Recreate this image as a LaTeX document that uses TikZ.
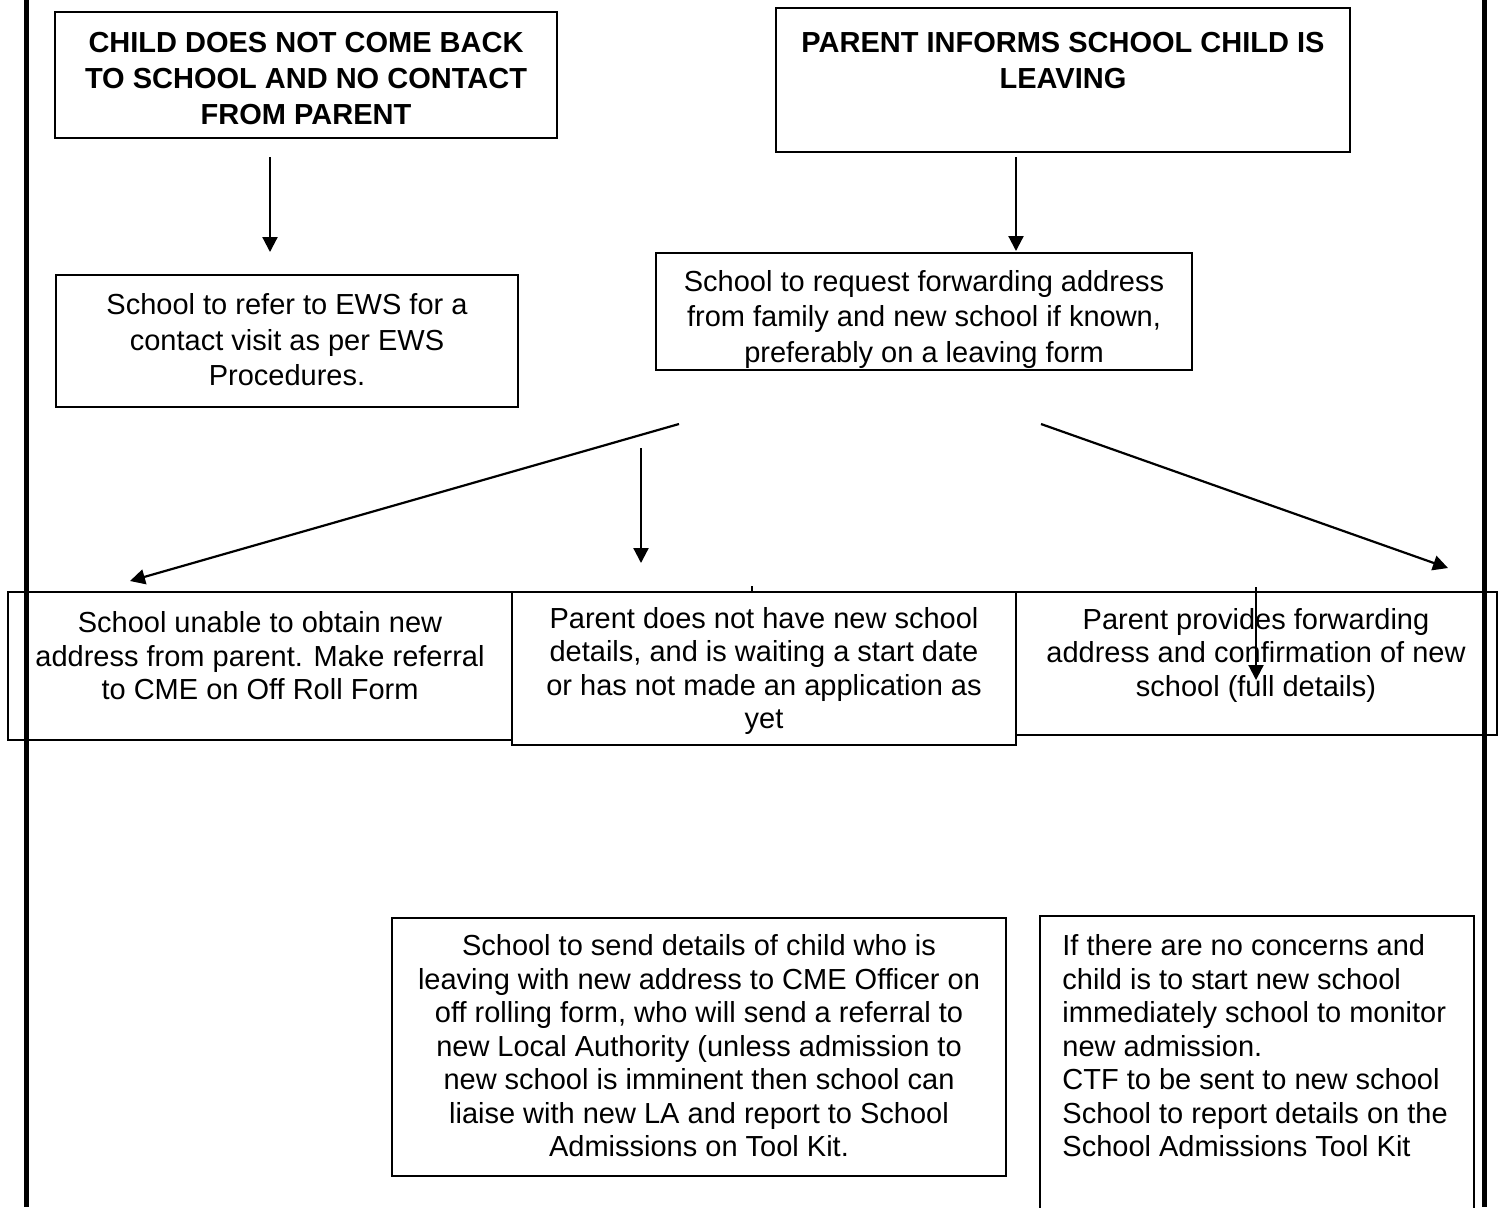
\documentclass[tikz,border=0pt]{standalone}
\usepackage{fontspec}
\setmainfont{Liberation Sans}
\usetikzlibrary{arrows.meta,fit}

\begin{document}
\begin{tikzpicture}[x=0.5pt, y=-0.5pt,
	box/.style={draw, line width=0.9pt, fill=white, inner sep=0pt},
	headtxt/.style={font=\fontsize{14.5pt}{18pt}\selectfont\bfseries, align=center, inner sep=0pt},
	bodytxt/.style={font=\fontsize{14.5pt}{16.75pt}\selectfont, align=center, inner sep=0pt},
	widetxt/.style={bodytxt, font=\fontsize{14.5pt}{17.75pt}\selectfont},
	flow/.style={-{Triangle[length=7.5pt,width=7.5pt]}, line width=1.1pt},
	side/.style={line width=2.5pt}]

% page %{{{2

	\useasboundingbox (0,0) rectangle (1504,1207);

	\coordinate (L1) at (26,0);
	\coordinate (L2) at (26,1207);
	\coordinate (R1) at (1484,0);
	\coordinate (R2) at (1484,1207);

% top boxes %{{{2

	\node[box, fit={(55,12) (557,138)}] (noContact) {};
	\node[headtxt] (noContactTxt) at (306,79) {CHILD DOES NOT COME BACK\\TO SCHOOL AND NO CONTACT\\FROM PARENT};

	\node[box, fit={(776,8) (1350,152)}] (informs) {};
	\node[headtxt] (informsTxt) at (1063,61) {PARENT INFORMS SCHOOL CHILD IS\\LEAVING};

	\node[box, fit={(56,275) (518,407)}] (ews) {};
	\node[widetxt] (ewsTxt) at (287,340) {School to refer to EWS for a\\contact visit as per EWS\\Procedures.};

	\node[box, fit={(656,253) (1192,370)}] (request) {};
	\node[widetxt] (requestTxt) at (924,319) {School to request forwarding address\\from family and new school if known,\\preferably on a leaving form};

% arrow coordinates %{{{2

	\coordinate (a1) at (270,157);
	\coordinate (b1) at (270,252);
	\coordinate (a2) at (1016,157);
	\coordinate (b2) at (1016,251);
	\coordinate (a3) at (679,424);
	\coordinate (b3) at (130,581);
	\coordinate (a4) at (641,448);
	\coordinate (b4) at (641,563);
	\coordinate (a5) at (1041,424);
	\coordinate (b5) at (1448,568);
	\coordinate (a6) at (1256,587);
	\coordinate (b6) at (1256,680);
	\coordinate (t1) at (752,586);
	\coordinate (t2) at (752,592);

	\draw[flow] (a1) -- (b1);
	\draw[flow] (a2) -- (b2);
	\draw[flow] (a3) -- (b3);
	\draw[flow] (a4) -- (b4);
	\draw[flow] (a5) -- (b5);
	\draw[line width=0.9pt] (t1) -- (t2);

% middle row %{{{2

	\node[box, fit={(8,592) (512,740)}] (unable) {};
	\node[bodytxt] (unableTxt) at (260,656) {School unable to obtain new\\address from parent. Make referral\\to CME on Off Roll Form};

	\node[box, fit={(1016,592) (1497,735)}] (provides) {};
	\node[bodytxt] (providesTxt) at (1256,655) {Parent provides forwarding\\address and confirmation of new\\school (full details)};

	\node[box, fit={(512,592) (1016,745)}] (waiting) {};
	\node[bodytxt] (waitingTxt) at (764,671) {Parent does not have new school\\details, and is waiting a start date\\or has not made an application as\\yet};

	\draw[flow] (a6) -- (b6);

% bottom boxes %{{{2

	\node[box, fit={(392,918) (1006,1176)}] (sendDetails) {};
	\node[bodytxt] (sendDetailsTxt) at (699,1046) {School to send details of child who is\\leaving with new address to CME Officer on\\off rolling form, who will send a referral to\\new Local Authority (unless admission to\\new school is imminent then school can\\liaise with new LA and report to School\\Admissions on Tool Kit.};

	\node[box, fit={(1040,916) (1474,1240)}] (noConcerns) {};
	\node[bodytxt, align=left, anchor=west] (noConcernsTxt) at (1062,1046) {If there are no concerns and\\child is to start new school\\immediately school to monitor\\new admission.\\CTF to be sent to new school\\School to report details on the\\School Admissions Tool Kit};

% side rules %{{{2

	\draw[side] (L1) -- (L2);
	\draw[side] (R1) -- (R2);

\end{tikzpicture}
\end{document}
